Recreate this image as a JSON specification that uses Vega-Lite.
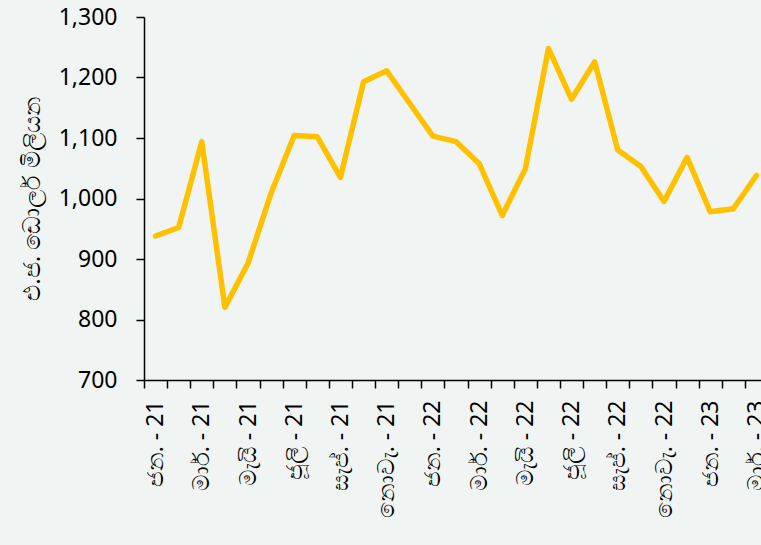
{
  "$schema": "https://vega.github.io/schema/vega-lite/v6.json",
  "autosize": {"type": "none"},
  "padding": {"left": 144, "top": 17, "right": 0, "bottom": 165},
  "width": 624,
  "height": 363,
  "background": "#F0F5F3",
  "config": {
    "view": {"stroke": null},
    "font": "Noto Sans",
    "axis": {"grid": false, "domainColor": "#000000", "tickColor": "#000000", "labelColor": "#000000", "titleColor": "#000000", "labelFont": "Noto Sans", "titleFont": "Noto Sans", "labelFontSize": 23, "titleFontSize": 24, "titleFontWeight": "normal", "domainWidth": 1.5, "tickWidth": 1.5, "tickSize": 8}
  },
  "data": {
    "values": [
      {"month": "ජන. - 21", "value": 938},
      {"month": "පෙබ. - 21", "value": 952},
      {"month": "මාර්. - 21", "value": 1094},
      {"month": "අප්‍රේ. - 21", "value": 820},
      {"month": "මැයි - 21", "value": 893},
      {"month": "ජූනි - 21", "value": 1009},
      {"month": "ජූලි - 21", "value": 1104},
      {"month": "අගෝ. - 21", "value": 1102},
      {"month": "සැප්. - 21", "value": 1035},
      {"month": "ඔක්. - 21", "value": 1193},
      {"month": "නොවැ. - 21", "value": 1211},
      {"month": "දෙසැ. - 21", "value": 1157},
      {"month": "ජන. - 22", "value": 1103},
      {"month": "පෙබ. - 22", "value": 1094},
      {"month": "මාර්. - 22", "value": 1058},
      {"month": "අප්‍රේ. - 22", "value": 972},
      {"month": "මැයි - 22", "value": 1049},
      {"month": "ජූනි - 22", "value": 1248},
      {"month": "ජූලි - 22", "value": 1164},
      {"month": "අගෝ. - 22", "value": 1226},
      {"month": "සැප්. - 22", "value": 1080},
      {"month": "ඔක්. - 22", "value": 1053},
      {"month": "නොවැ. - 22", "value": 995},
      {"month": "දෙසැ. - 22", "value": 1068},
      {"month": "ජන. - 23", "value": 978},
      {"month": "පෙබ. - 23", "value": 983},
      {"month": "මාර්. - 23", "value": 1038}
    ]
  },
  "mark": {"type": "line", "color": "#FFC000", "strokeWidth": 5.5, "strokeJoin": "round", "strokeCap": "round"},
  "encoding": {
    "x": {
      "field": "month",
      "type": "ordinal",
      "sort": null,
      "bandPosition": 0.5,
      "scale": {"type": "band", "paddingInner": 0, "paddingOuter": 0},
      "axis": {
        "title": null,
        "labelAngle": -90,
        "labelPadding": 12,
        "tickBand": "extent",
        "labelExpr": "indexof(['ජන.','මාර්.','මැයි','ජූලි','සැප්.','නොවැ.'], split(datum.value, ' - ')[0]) >= 0 ? datum.value : ''"
      }
    },
    "y": {
      "field": "value",
      "type": "quantitative",
      "scale": {"domain": [700, 1300], "nice": false, "zero": false},
      "axis": {
        "title": "එ.ජ. ඩොලර් මිලියන",
        "values": [700, 800, 900, 1000, 1100, 1200, 1300],
        "format": ",d",
        "labelPadding": 19,
        "titlePadding": 14
      }
    }
  }
}
